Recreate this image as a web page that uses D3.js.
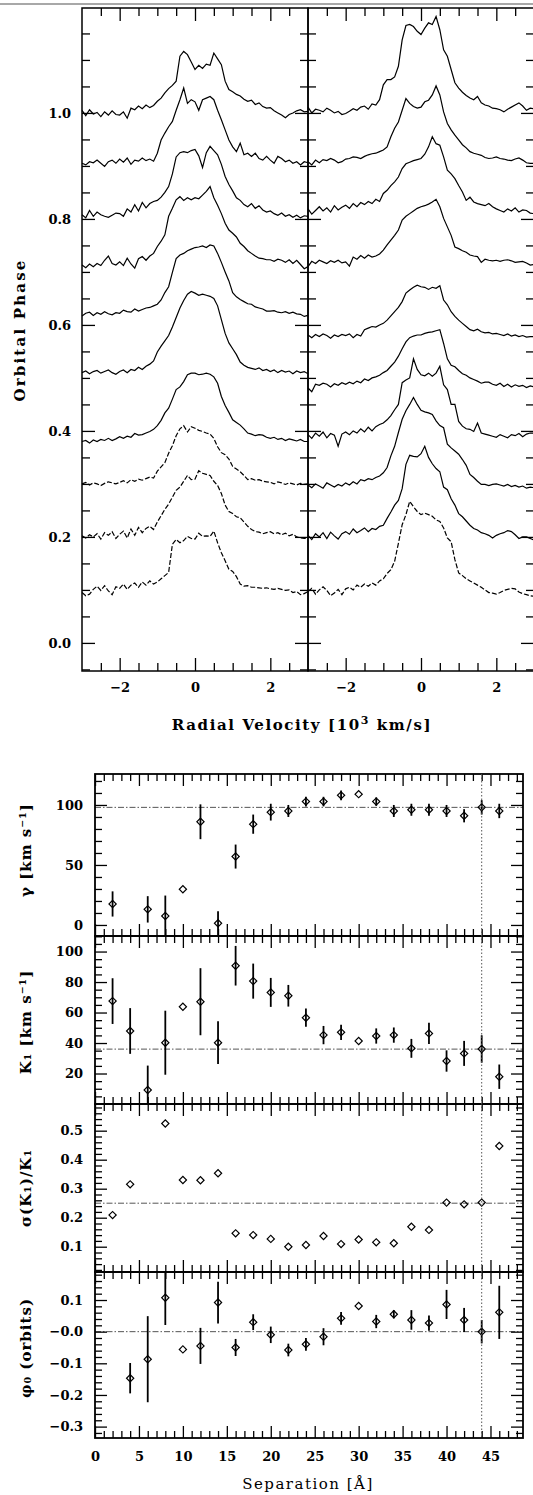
<!DOCTYPE html>
<html>
<head>
<meta charset="utf-8">
<script src="https://cdn.jsdelivr.net/npm/d3@7"></script>
<style>
  body { margin: 0; background: #fff; }
  svg { display: block; background: #fff; }
</style>
</head>
<body>
<svg id="chart" width="533" height="1495"></svg>
<script>
"use strict";

// ---------- top figure: trailed line profiles ----------
// velocity grid [10^3 km/s]
const velGrid = [-3.0, -2.9, -2.8, -2.7, -2.6, -2.5, -2.4, -2.3, -2.2, -2.1,
  -2.0, -1.9, -1.8, -1.7, -1.6, -1.5, -1.4, -1.3, -1.2, -1.1,
  -1.0, -0.9, -0.8, -0.7, -0.6, -0.5, -0.4, -0.3, -0.2, -0.1,
  0.0, 0.1, 0.2, 0.3, 0.4, 0.5, 0.6, 0.7, 0.8, 0.9,
  1.0, 1.1, 1.2, 1.3, 1.4, 1.5, 1.6, 1.7, 1.8, 1.9,
  2.0, 2.1, 2.2, 2.3, 2.4, 2.5, 2.6, 2.7, 2.8, 2.9, 3.0];

// baseline (orbital phase) of each profile, top to bottom
const phasesLeft  = [1.0, 0.905, 0.805, 0.71, 0.62, 0.51, 0.38, 0.30, 0.20, 0.095];
const phasesRight = [1.005, 0.908, 0.813, 0.716, 0.578, 0.486, 0.39, 0.296, 0.20, 0.097];
const dashedLeft  = [false, false, false, false, false, false, false, true, true, true];
const dashedRight = [false, false, false, false, false, false, false, false, false, true];

// profile height above its baseline, in units of 0.01 phase
const left1 = [0.5, -0.5, 0.6, -0.2, 0.1, -0.7, 0.2, -0.4, 0.4, -0.3,
  -0.4, 0.2, -1.0, 0.9, 0.6, 1.3, 0.8, 1.5, 1.0, 1.4,
  2.2, 2.8, 3.8, 4.6, 5.2, 6.0, 10.7, 11.6, 11.0, 9.6,
  8.2, 9.0, 8.4, 9.2, 9.0, 11.3, 10.2, 9.1, 6.0, 4.4,
  4.0, 3.5, 3.2, 2.6, 2.2, 2.4, 1.6, 1.9, 1.2, 0.9,
  1.0, 0.4, 0.0, -0.4, -0.9, -0.3, 0.0, 0.4, 0.6, 0.2, 0.3];
const left2 = [0.0, -0.3, 0.3, 0.1, 0.6, 0.0, -0.6, 0.3, 0.6, 0.0,
  0.8, 0.2, 1.0, -0.2, 0.6, 0.4, 1.0, 0.5, 0.8, 0.4,
  1.9, 4.4, 5.7, 6.9, 7.9, 10.0, 12.0, 14.2, 11.3, 12.0,
  11.6, 10.0, 12.0, 12.3, 12.6, 12.0, 10.0, 8.2, 6.3, 4.4,
  3.1, 2.2, 3.8, 1.6, 1.9, 1.3, 1.9, 0.9, 0.6, 1.3,
  0.6, 0.0, 1.3, 0.9, 0.3, 0.6, 0.0, 0.3, -0.3, 0.3, 0.1];
const left3 = [0.3, -0.3, 1.1, 0.0, 0.8, 0.3, 0.0, -0.2, 0.2, 0.6,
  0.5, 0.0, 1.4, 0.8, 2.2, 1.0, 2.6, 1.6, 2.4, 2.8,
  3.0, 3.6, 4.5, 5.6, 8.0, 11.2, 12.0, 12.2, 12.0, 12.4,
  12.6, 11.4, 9.2, 12.0, 13.2, 12.4, 11.6, 9.8, 7.5, 6.0,
  4.8, 3.5, 3.0, 2.2, 1.8, 2.4, 1.5, 2.0, 1.2, 0.8,
  1.0, 0.5, 0.2, 0.6, 0.0, 0.3, -0.2, 0.2, -0.3, 0.1, 0.0];
const left4 = [0.3, -0.2, 0.5, 0.0, 0.6, 0.2, 1.2, 2.0, 0.6, 0.3,
  0.9, 0.2, 1.6, 0.5, -0.3, 1.5, 1.9, 1.2, 2.0, 2.5,
  3.8, 4.8, 6.0, 9.5, 11.0, 12.6, 13.2, 12.5, 13.0, 12.6,
  13.0, 12.8, 13.5, 14.2, 15.1, 13.0, 11.6, 10.0, 8.2, 6.9,
  6.3, 5.6, 4.4, 3.8, 3.0, 2.5, 2.0, 1.6, 1.5, 1.3,
  1.3, 1.0, 1.4, 1.2, 0.8, 1.3, 0.6, 1.2, 0.4, -0.4, 0.0];
const left5 = [-0.3, 0.2, 0.4, -0.2, 0.3, 0.0, 0.5, 0.1, -0.1, 0.3,
  0.2, 0.8, 0.5, 0.4, 1.0, 0.6, 0.9, 1.2, 1.3, 1.6,
  1.9, 2.7, 4.1, 5.2, 7.9, 10.5, 11.2, 11.5, 12.0, 12.3,
  12.6, 12.7, 12.9, 12.6, 13.1, 12.9, 11.5, 9.8, 8.0, 6.3,
  4.1, 3.3, 2.8, 2.4, 2.0, 1.9, 1.4, 1.2, 1.0, 0.6,
  0.6, 0.7, 0.4, 0.3, 0.5, 0.2, 0.4, 0.1, 0.0, -0.4, -0.2];
const left6 = [0.0, 0.3, -0.2, 0.2, 0.4, -0.1, 0.2, 0.5, 0.0, -0.3,
  0.2, 0.5, 0.0, 0.6, 0.4, 1.0, 0.6, 1.2, 1.6, 2.2,
  3.9, 5.0, 6.0, 7.0, 8.6, 10.4, 12.2, 13.6, 14.8, 15.3,
  15.0, 14.6, 14.8, 14.6, 14.4, 14.0, 12.6, 10.0, 7.4, 5.6,
  4.5, 3.4, 2.0, 1.4, 1.0, 0.8, 0.6, 0.9, 0.4, 0.6,
  0.2, 0.5, 0.0, 0.4, 0.1, 0.3, -0.2, 0.3, 0.0, 0.2, -0.2];
const left7 = [0.0, 0.2, -0.3, 0.3, 0.0, 0.4, 0.2, 0.6, 0.2, 0.5,
  0.9, 0.6, 1.0, 0.8, 1.5, 1.2, 1.3, 1.6, 1.9, 2.3,
  3.0, 4.0, 5.4, 6.3, 8.0, 9.8, 10.3, 11.3, 12.6, 12.9,
  12.9, 12.6, 12.7, 12.9, 12.7, 12.2, 11.0, 8.5, 6.8, 5.5,
  4.1, 3.6, 3.1, 2.4, 1.6, 1.4, 1.1, 1.3, 1.2, 0.8,
  0.6, 0.8, 0.4, 0.6, 0.2, 0.5, 0.3, 0.1, 0.4, 0.0, 0.0];
const left8 = [0.0, 0.3, -0.2, 0.2, 0.0, -0.3, 0.1, 0.4, 0.2, 0.0,
  0.3, 0.6, 0.2, 0.8, 0.5, 0.9, 0.7, 1.0, 1.3, 1.1,
  2.4, 3.2, 4.0, 5.8, 7.2, 9.1, 10.4, 11.0, 9.8, 10.8,
  10.5, 10.1, 9.9, 9.6, 9.4, 8.6, 7.0, 5.9, 5.5, 4.7,
  3.3, 2.8, 2.3, 1.6, 0.8, 1.0, 0.7, 0.8, 0.5, 0.4,
  0.3, 0.0, 0.4, 0.2, -0.1, 0.2, 0.0, -0.2, 0.1, -0.1, 0.0];
const left9 = [0.2, -0.2, 0.4, 0.0, 0.6, -0.4, 0.8, 0.3, 1.0, -0.3,
  0.5, 1.1, -0.2, 1.5, 0.3, 1.8, 0.8, 1.6, 2.0, 1.4,
  2.8, 4.0, 5.2, 6.2, 7.5, 8.8, 9.4, 10.5, 11.6, 10.8,
  10.9, 12.5, 12.0, 11.8, 11.6, 10.5, 9.7, 8.2, 6.0, 4.8,
  4.4, 3.8, 3.6, 2.8, 2.0, 1.4, 1.0, 0.9, 0.6, 0.8,
  1.0, 0.6, 0.8, 0.4, 0.7, 0.2, 0.5, 0.0, -0.2, -0.3, -0.3];
const left10 = [0.0, -0.6, -0.3, 0.6, 1.2, 0.4, 1.3, 0.3, -0.4, 1.1,
  0.8, 1.6, 0.6, 1.4, 1.8, 1.0, 2.0, 1.4, 2.2, 1.6,
  2.0, 2.6, 3.2, 3.8, 9.1, 10.0, 9.4, 9.8, 10.6, 10.2,
  10.1, 11.2, 10.6, 10.7, 10.6, 11.6, 9.4, 7.5, 6.0, 4.4,
  4.0, 3.0, 1.6, 1.2, 1.3, 1.0, 1.0, 0.9, 0.8, 0.9,
  0.7, 0.6, 0.8, 0.6, 0.4, 0.5, 0.0, 0.2, -0.4, -0.2, 0.2];

const right1 = [0.6, -0.5, 0.2, 0.0, -0.3, 0.4, 0.0, -0.5, -0.2, -0.8,
  -0.6, -0.2, 0.3, 0.0, 0.6, 0.8, 0.2, 1.2, 1.0, 2.0,
  4.8, 5.8, 5.8, 6.3, 8.3, 13.3, 16.0, 16.2, 15.8, 14.9,
  14.3, 15.5, 16.5, 16.2, 17.7, 15.2, 11.4, 10.2, 7.7, 5.2,
  4.2, 3.4, 2.8, 2.3, 2.0, 2.6, 1.4, 1.0, 0.8, 0.4,
  0.3, 0.1, -0.3, 0.2, 0.6, 1.0, 1.4, 0.8, 0.0, 0.4, 0.3];
const right2 = [0.0, -0.6, 0.3, -0.2, 0.4, 0.2, 0.6, 0.3, -0.2, 0.0,
  0.5, 0.6, 0.9, 0.8, 0.6, 1.0, 1.3, 1.5, 1.6, 1.9,
  2.2, 2.8, 4.7, 6.3, 7.5, 9.7, 11.9, 11.0, 10.4, 10.1,
  10.3, 11.3, 11.6, 12.6, 14.3, 12.6, 9.4, 7.2, 6.0, 5.0,
  4.1, 3.2, 2.6, 1.9, 1.6, 1.4, 1.2, 0.8, 0.6, 0.7,
  0.9, 0.6, 0.5, 0.3, 0.2, 0.5, 0.7, 0.3, -0.2, -0.3, -0.3];
const right3 = [0.6, -0.4, 0.3, 1.0, 0.2, 0.8, 0.0, 1.2, 0.4, 0.9,
  1.3, 0.7, 1.6, 1.0, 1.8, 1.4, 2.0, 1.6, 2.4, 2.0,
  3.5, 4.1, 5.0, 5.7, 6.6, 8.2, 9.1, 9.4, 9.7, 9.9,
  10.1, 10.9, 12.3, 14.2, 12.9, 12.6, 10.4, 7.9, 7.2, 6.3,
  5.0, 3.8, 2.2, 2.8, 1.9, 1.6, 1.4, 1.2, 1.6, 1.0,
  0.6, 0.3, 0.0, 0.6, 0.2, 0.8, 0.0, 0.4, 0.3, -0.2, -0.3];
const right4 = [-0.6, 0.4, 0.0, 0.6, 0.3, 0.0, 0.5, 0.2, 0.6, 0.1,
  0.3, -0.5, 1.2, 0.8, 1.5, 1.0, 1.6, 1.2, 1.4, 1.8,
  2.5, 3.5, 4.4, 5.3, 6.3, 8.2, 8.9, 9.4, 9.9, 10.4,
  10.7, 10.9, 11.2, 11.6, 12.1, 10.7, 8.5, 6.9, 5.3, 3.1,
  2.8, 2.4, 2.1, 1.6, 1.4, 1.3, 0.2, 0.8, 0.6, 0.5,
  0.6, 0.4, 0.6, 0.7, 0.5, 0.2, 0.3, 0.4, 0.1, -0.3, -0.2];
const right5 = [0.3, -0.2, 0.4, 0.0, 0.5, 0.2, -0.3, 0.3, 0.0, 0.4,
  0.2, 0.5, -0.2, 0.4, 0.1, 1.3, 1.6, 1.9, 1.8, 2.2,
  2.5, 3.1, 3.9, 4.7, 5.5, 6.6, 8.2, 8.8, 9.3, 9.7,
  9.4, 9.3, 8.9, 9.3, 9.1, 9.6, 6.9, 6.0, 4.7, 3.8,
  3.1, 2.5, 1.9, 1.3, 1.1, 1.4, 0.9, 0.7, 0.8, 0.5,
  0.6, 0.4, 0.2, 0.5, 0.1, 0.3, 0.0, 0.2, -0.1, 0.0, 0.0];
const right6 = [-0.5, -1.2, 0.2, 0.0, 0.4, 0.2, -0.3, 0.3, 0.0, 0.5,
  0.2, 0.6, 0.3, 0.8, 0.5, 1.2, 0.9, 1.4, 1.6, 1.9,
  2.4, 2.8, 3.6, 4.4, 5.5, 6.9, 8.2, 9.0, 9.3, 9.5,
  9.5, 9.8, 10.0, 10.1, 10.3, 10.5, 7.9, 5.0, 3.8, 3.5,
  2.8, 2.2, 1.9, 1.4, 1.1, 0.8, 0.4, 0.6, 0.6, 0.2,
  0.0, 0.4, -0.2, 0.2, -0.3, 0.1, -0.2, 0.0, -0.4, -0.1, -0.3];
const right7 = [0.3, -0.4, 0.6, 0.0, 0.8, -0.3, 0.5, 0.2, -1.9, 0.4,
  0.8, 0.3, 1.0, 0.6, 1.4, 0.8, 1.7, 1.0, 1.8, 2.2,
  2.5, 3.1, 3.9, 5.0, 6.0, 10.1, 10.6, 11.0, 14.6, 12.6,
  11.6, 11.4, 11.9, 11.3, 11.9, 13.2, 9.7, 8.8, 6.0, 6.0,
  2.8, 1.9, 1.4, 1.3, 0.9, 2.5, 0.6, 0.4, 0.2, 0.0,
  -0.2, 0.3, 0.0, -0.3, 0.3, 0.1, 0.5, -0.1, 0.4, 0.6, 0.6];
const right8 = [0.2, -0.3, 0.4, 0.0, -0.4, 0.6, 0.2, -0.2, 0.3, 0.0,
  0.6, 0.2, 0.8, 0.4, 1.2, 1.0, 1.4, 1.2, 1.6, 1.9,
  2.5, 3.5, 5.7, 7.5, 10.1, 12.6, 14.2, 15.4, 16.7, 15.4,
  14.3, 14.0, 13.8, 13.5, 12.3, 11.4, 11.0, 7.9, 7.2, 6.6,
  6.0, 5.0, 3.9, 2.2, 1.6, 0.9, 0.3, 0.3, 0.1, 0.3,
  0.4, 0.2, 0.0, 0.3, -0.1, 0.1, -0.2, 0.0, -0.4, -0.2, -0.3];
const right9 = [0.3, -0.5, 0.6, 0.0, 0.8, -0.3, 0.9, 0.2, -0.4, 0.6,
  1.0, 0.5, 1.5, 0.8, 1.2, 1.7, 1.0, 1.6, 1.4, 2.0,
  2.2, 3.5, 4.7, 6.0, 6.9, 9.1, 13.7, 15.4, 15.2, 15.1,
  15.7, 17.1, 15.0, 13.8, 12.9, 12.3, 9.4, 8.9, 7.2, 6.0,
  4.4, 3.8, 3.0, 2.2, 1.6, 1.3, 0.8, 0.6, 0.3, -0.2,
  0.3, 0.6, 0.8, 1.2, 1.0, 0.4, -0.3, 0.0, 0.0, -0.3, -0.6];
const right10 = [0.0, 0.6, -0.5, 0.3, 0.9, 0.2, -0.8, -0.3, 0.4, -0.6,
  0.5, 0.8, 0.3, 1.2, 0.8, 1.4, 1.0, 1.6, 1.2, 2.0,
  2.4, 3.4, 4.1, 5.7, 9.1, 12.6, 14.5, 17.0, 16.0, 15.1,
  14.5, 14.8, 14.5, 14.2, 13.5, 13.2, 12.0, 10.1, 9.4, 6.0,
  3.5, 3.0, 2.4, 2.0, 1.6, 1.2, 0.8, 0.3, -0.2, -0.3,
  -0.5, -0.2, 0.2, 0.4, 0.6, 0.5, -0.1, -0.4, -0.6, -0.8, -0.9];

const profilesLeft  = [left1, left2, left3, left4, left5, left6, left7, left8, left9, left10];
const profilesRight = [right1, right2, right3, right4, right5, right6, right7, right8, right9, right10];

const velMajor = [-2, 0, 2];
const velLabels = ["\u22122", "0", "2"];
const phaseMajor = [0, 0.2, 0.4, 0.6, 0.8, 1.0];
const phaseLabels = ["0.0", "0.2", "0.4", "0.6", "0.8", "1.0"];

// ---------- bottom figure: fit parameters vs separation ----------
const separation = [2, 4, 6, 8, 10, 12, 14, 16, 18, 20, 22, 24, 26, 28, 30, 32, 34, 36, 38, 40, 42, 44, 46];
const gammaVal = [17.5, null, 13, 7.5, 29.7, 86, 1.4, 57, 84, 94, 95, 102.8, 102.8, 108, 109, 102.8, 95, 96, 96, 95, 91, 98, 95];
const gammaErr = [10.5, 0, 11, 17, 0, 14.5, 10, 10, 8, 7, 5, 4, 4, 4, 0, 3.5, 5, 5, 5, 5, 5.5, 6, 6];
const k1Val = [67.5, 47.9, 9.2, 40.2, 63.8, 67.1, 40.2, 90.7, 80.6, 73.2, 71, 56.6, 45.2, 47, 41.3, 44.6, 45.2, 36.5, 46.3, 28.2, 33.2, 36.1, 17.9];
const k1Err = [15, 15, 16, 21, 0, 22, 14, 13, 11.5, 9.5, 7.1, 6, 6, 5, 0, 5, 5, 6.2, 7, 7, 8.2, 9, 8];
const sigmaVal = [0.209, 0.315, null, 0.525, 0.33, 0.329, 0.353, 0.146, 0.140, 0.127, 0.100, 0.106, 0.137, 0.109, 0.125, 0.115, 0.112, 0.169, 0.158, 0.252, 0.246, 0.252, 0.447];
const phiVal = [null, -0.147, -0.087, 0.107, -0.056, -0.045, 0.092, -0.05, 0.03, -0.01, -0.058, -0.04, -0.016, 0.042, 0.081, 0.032, 0.055, 0.037, 0.027, 0.086, 0.037, 0.0, 0.061];
const phiErr = [0, 0.048, 0.136, 0.086, 0, 0.057, 0.066, 0.027, 0.025, 0.026, 0.02, 0.02, 0.027, 0.02, 0, 0.021, 0.013, 0.031, 0.024, 0.046, 0.038, 0.037, 0.084];

const gammaRef = 98, k1Ref = 36, sigmaRef = 0.25, phiRef = 0, sepRef = 44;

const sepMajor = [0, 5, 10, 15, 20, 25, 30, 35, 40, 45];
const sepLabels = ["0", "5", "10", "15", "20", "25", "30", "35", "40", "45"];
const gammaMajor = [0, 50, 100];
const gammaLabels = ["0", "50", "100"];
const k1Major = [20, 40, 60, 80, 100];
const k1Labels = ["20", "40", "60", "80", "100"];
const sigmaMajor = [0.1, 0.2, 0.3, 0.4, 0.5];
const sigmaLabels = ["0.1", "0.2", "0.3", "0.4", "0.5"];
const phiMajor = [0.1, 0, -0.1, -0.2, -0.3];
const phiLabels = ["0.1", "\u22120.0", "\u22120.1", "\u22120.2", "\u22120.3"];

// ---------- drawing ----------
const FONT = "DejaVu Serif";
const svg = d3.select("#chart");

function steps(a, b, step) {
  return d3.range(Math.round(a / step), Math.round(b / step) + 1).map(k => +(k * step).toFixed(4));
}

function tickAxis(parent, orient, scale, pos, values, size, labels, pad) {
  const make = {left: d3.axisLeft, right: d3.axisRight, top: d3.axisTop, bottom: d3.axisBottom}[orient];
  const ax = make(scale).tickValues(values).tickSize(-size).tickPadding(pad || 0)
    .tickFormat(labels ? (d, i) => labels[i] : "");
  const vertical = orient === "left" || orient === "right";
  const g = parent.append("g")
    .attr("transform", vertical ? `translate(${pos},0)` : `translate(0,${pos})`)
    .call(ax);
  g.select(".domain").remove();
  g.selectAll("line").attr("stroke", "#000").attr("stroke-width", 1.3);
  g.selectAll("text")
    .attr("font-family", FONT).attr("font-weight", "bold")
    .attr("font-size", 13).attr("fill", "#000");
  return g;
}

// grey rule along the very top of the page
svg.append("line")
  .attr("x1", 0).attr("x2", 533).attr("y1", 4).attr("y2", 4)
  .attr("stroke", "#a8a8a8").attr("stroke-width", 2);

// top figure
const specTop = 8, specBottom = 671;
const yPhase = d3.scaleLinear().domain([-0.053, 1.198]).range([specBottom, specTop]);
const specPanels = [
  {x0: 82, x1: 308, phases: phasesLeft, profiles: profilesLeft, dashed: dashedLeft, labelY: true},
  {x0: 308, x1: 534, phases: phasesRight, profiles: profilesRight, dashed: dashedRight, labelY: false}
];

const velMinor = steps(-2.5, 2.5, 0.5).filter(v => !velMajor.includes(v));
const phaseMinor = steps(-0.05, 1.15, 0.05).filter(v => !phaseMajor.some(m => Math.abs(m - v) < 1e-6));

specPanels.forEach(p => {
  const xv = d3.scaleLinear().domain([-3, 3]).range([p.x0, p.x1]);
  const g = svg.append("g");

  p.profiles.forEach((prof, i) => {
    const base = p.phases[i];
    const line = d3.line()
      .x((d, j) => xv(velGrid[j]))
      .y(d => yPhase(base + d / 100));
    g.append("path")
      .datum(prof)
      .attr("d", line)
      .attr("fill", "none")
      .attr("stroke", "#000")
      .attr("stroke-width", 1.2)
      .attr("stroke-dasharray", p.dashed[i] ? "5,2" : null);
  });

  tickAxis(g, "bottom", xv, specBottom, velMinor, 8);
  tickAxis(g, "bottom", xv, specBottom, velMajor, 13, velLabels, 12);
  tickAxis(g, "top", xv, specTop, velMinor, 8);
  tickAxis(g, "top", xv, specTop, velMajor, 13);
  tickAxis(g, "left", yPhase, p.x0, phaseMinor, 8);
  tickAxis(g, "left", yPhase, p.x0, phaseMajor, 13, p.labelY ? phaseLabels : null, 11);
  tickAxis(g, "right", yPhase, p.x1, phaseMinor, 8);
  tickAxis(g, "right", yPhase, p.x1, phaseMajor, 13);

  g.append("rect")
    .attr("x", p.x0).attr("y", specTop)
    .attr("width", p.x1 - p.x0).attr("height", specBottom - specTop)
    .attr("fill", "none").attr("stroke", "#000").attr("stroke-width", 1.5);
});

const velTitle = svg.append("text")
  .attr("x", 302).attr("y", 730)
  .attr("text-anchor", "middle")
  .attr("font-family", FONT).attr("font-weight", "bold")
  .attr("font-size", 15).attr("letter-spacing", 1.6);
velTitle.append("tspan").text("Radial Velocity [10");
velTitle.append("tspan").attr("dy", -6).attr("font-size", 11).text("3");
velTitle.append("tspan").attr("dy", 6).text(" km/s]");

svg.append("text")
  .attr("transform", "translate(20,330) rotate(-90)")
  .attr("text-anchor", "middle").attr("dy", "0.35em")
  .attr("font-family", FONT).attr("font-weight", "bold")
  .attr("font-size", 15).attr("letter-spacing", 2.2)
  .text("Orbital Phase");

// bottom figure
const plotLeft = 95, plotRight = 523;
const xSep = d3.scaleLinear().domain([0, 48.7]).range([plotLeft, plotRight]);
const sepMinor = steps(1, 48, 1).filter(v => v % 5 !== 0);

const fitPanels = [
  {top: 774, bottom: 936, domain: [-9.2, 125.8], vals: gammaVal, errs: gammaErr, ref: gammaRef,
   minorStep: 10, major: gammaMajor, labels: gammaLabels, title: "\u03b3  [km s\u207b\u00b9]", titleY: 850},
  {top: 936, bottom: 1104, domain: [0, 110.2], vals: k1Val, errs: k1Err, ref: k1Ref,
   minorStep: 5, major: k1Major, labels: k1Labels, title: "K\u2081  [km s\u207b\u00b9]", titleY: 1022},
  {top: 1104, bottom: 1272, domain: [0.0128, 0.592], vals: sigmaVal, errs: null, ref: sigmaRef,
   minorStep: 0.02, major: sigmaMajor, labels: sigmaLabels, title: "\u03c3(K\u2081)/K\u2081", titleY: 1188},
  {top: 1272, bottom: 1438, domain: [-0.336, 0.1885], vals: phiVal, errs: phiErr, ref: phiRef,
   minorStep: 0.02, major: phiMajor, labels: phiLabels, title: "\u03c6\u2080 (orbits)", titleY: 1348}
];

const diamond = d3.symbol(d3.symbolSquare, 26);

fitPanels.forEach((p, k) => {
  const y = d3.scaleLinear().domain(p.domain).range([p.bottom, p.top]);
  const yc = y.copy().clamp(true);
  const g = svg.append("g");
  const last = k === fitPanels.length - 1;

  // reference level
  g.append("line")
    .attr("x1", plotLeft).attr("x2", plotRight)
    .attr("y1", y(p.ref)).attr("y2", y(p.ref))
    .attr("stroke", "#555").attr("stroke-width", 1)
    .attr("stroke-dasharray", "6,2,1.5,2");

  const minor = steps(p.domain[0], p.domain[1], p.minorStep)
    .filter(v => v > p.domain[0] && v < p.domain[1])
    .filter(v => !p.major.some(m => Math.abs(m - v) < 1e-6));

  tickAxis(g, "bottom", xSep, p.bottom, sepMinor, 7);
  tickAxis(g, "bottom", xSep, p.bottom, sepMajor, 12, last ? sepLabels : null, 14);
  tickAxis(g, "top", xSep, p.top, sepMinor, 7);
  tickAxis(g, "top", xSep, p.top, sepMajor, 12);
  tickAxis(g, "left", y, plotLeft, minor, 7);
  tickAxis(g, "left", y, plotLeft, p.major, 12, p.labels, 12);
  tickAxis(g, "right", y, plotRight, minor, 7);
  tickAxis(g, "right", y, plotRight, p.major, 12);

  const pts = separation.map((s, i) => ({s: s, v: p.vals[i], e: p.errs ? p.errs[i] : 0}))
    .filter(d => d.v !== null);

  g.selectAll(".err")
    .data(pts.filter(d => d.e > 0))
    .enter().append("line")
    .attr("x1", d => xSep(d.s)).attr("x2", d => xSep(d.s))
    .attr("y1", d => yc(d.v - d.e)).attr("y2", d => yc(d.v + d.e))
    .attr("stroke", "#000").attr("stroke-width", 1.8);

  g.selectAll(".pt")
    .data(pts)
    .enter().append("path")
    .attr("d", diamond)
    .attr("transform", d => `translate(${xSep(d.s)},${y(d.v)}) rotate(45)`)
    .attr("fill", "none").attr("stroke", "#000").attr("stroke-width", 1.2);

  g.append("rect")
    .attr("x", plotLeft).attr("y", p.top)
    .attr("width", plotRight - plotLeft).attr("height", p.bottom - p.top)
    .attr("fill", "none").attr("stroke", "#000").attr("stroke-width", 1.8);

  svg.append("text")
    .attr("transform", `translate(26,${p.titleY}) rotate(-90)`)
    .attr("text-anchor", "middle").attr("dy", "0.35em")
    .attr("font-family", FONT).attr("font-weight", "bold")
    .attr("font-size", 15).attr("letter-spacing", 1)
    .text(p.title);
});

// separation of the adopted fit
svg.append("line")
  .attr("x1", xSep(sepRef)).attr("x2", xSep(sepRef))
  .attr("y1", fitPanels[0].top).attr("y2", fitPanels[fitPanels.length - 1].bottom)
  .attr("stroke", "#555").attr("stroke-width", 1)
  .attr("stroke-dasharray", "1.5,2");

svg.append("text")
  .attr("x", 308).attr("y", 1489)
  .attr("text-anchor", "middle")
  .attr("font-family", FONT)
  .attr("font-size", 15).attr("letter-spacing", 1.5)
  .text("Separation [\u00c5]");
</script>
</body>
</html>
